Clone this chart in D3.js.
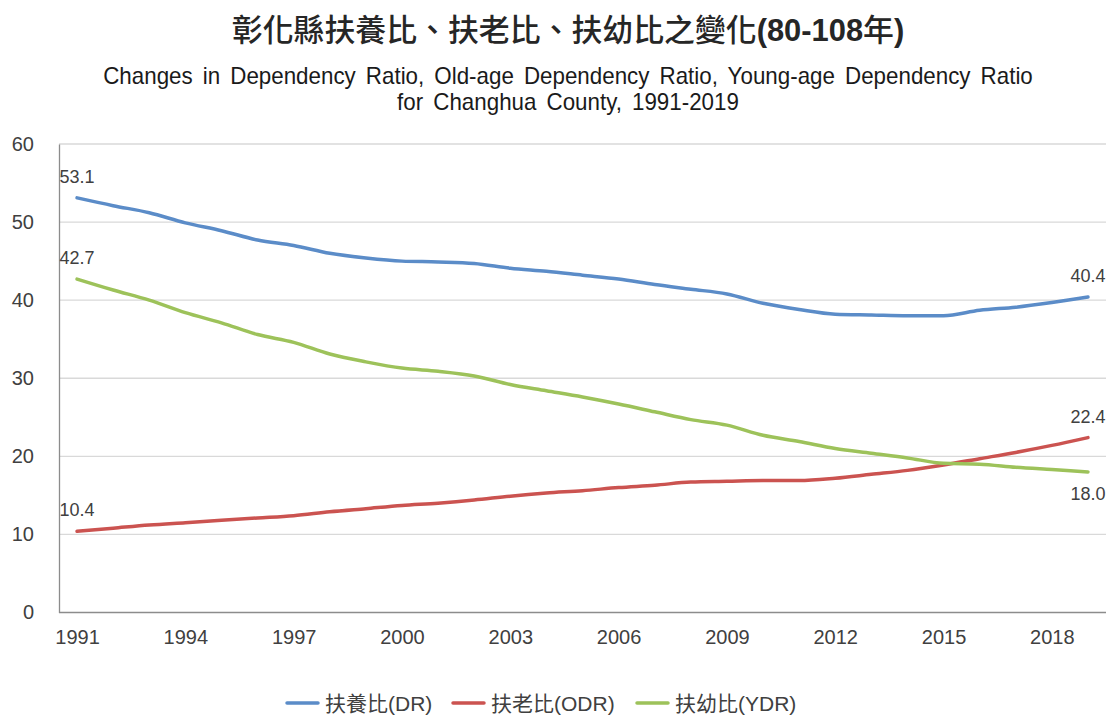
<!DOCTYPE html>
<html><head><meta charset="utf-8">
<script src="https://cdn.jsdelivr.net/npm/d3@7/dist/d3.min.js"></script>
<style>
html,body{margin:0;padding:0;background:#fff;}
svg{display:block;}
</style></head>
<body>
<svg id="chart" width="1113" height="717"></svg>
<script>
const years = [1991,1992,1993,1994,1995,1996,1997,1998,1999,2000,2001,2002,2003,2004,2005,2006,2007,2008,2009,2010,2011,2012,2013,2014,2015,2016,2017,2018,2019];
const dr  = [53.1,52.1,51.2,49.9,48.9,47.7,47.0,46.0,45.4,45.0,44.9,44.7,44.1,43.7,43.2,42.7,42.0,41.4,40.8,39.6,38.8,38.2,38.1,38.0,38.0,38.7,39.1,39.7,40.4];
const odr = [10.4,10.8,11.2,11.5,11.8,12.1,12.4,12.9,13.3,13.7,14.0,14.4,14.9,15.3,15.6,16.0,16.3,16.7,16.8,16.9,16.9,17.2,17.7,18.2,18.9,19.7,20.5,21.4,22.4];
const ydr = [42.7,41.3,40.0,38.4,37.1,35.6,34.6,33.1,32.1,31.3,30.9,30.3,29.2,28.4,27.6,26.7,25.7,24.7,24.0,22.7,21.9,21.0,20.4,19.8,19.1,19.0,18.6,18.3,18.0];
const seriesNames = ["扶養比(DR)","扶老比(ODR)","扶幼比(YDR)"];
const yTicks = [0,10,20,30,40,50,60];
const xTickLabels = [1991,1994,1997,2000,2003,2006,2009,2012,2015,2018];
const titleParts = [["彰化縣扶養比、扶老比、扶幼比之變化", "500"], ["(80-108", "bold"], ["年", "500"], [")", "bold"]];
const subtitle1 = "Changes in Dependency Ratio, Old-age Dependency Ratio, Young-age Dependency Ratio";
const subtitle2 = "for Changhua County, 1991-2019";

const colors = ["#5b8cc8","#cb5350","#9dc25a"];
const series = [dr, odr, ydr];
const latin = "'Liberation Sans', Arial, sans-serif";
const cjk = "'Liberation Sans', 'Noto Sans CJK TC', sans-serif";

const svg = d3.select("#chart");
const L = 59, R = 1106, T = 144, B = 612.5;
const CX = 568;
const x = d3.scalePoint().domain(years).range([L, R]).padding(0.5);
const y = d3.scaleLinear().domain([0, 60]).range([B, T]);

// gridlines
svg.append("g").selectAll("line").data(yTicks.filter(d => d > 0)).join("line")
  .attr("x1", L).attr("x2", R).attr("y1", d => y(d)).attr("y2", d => y(d))
  .attr("stroke", "#d9d9d9").attr("stroke-width", 1.3);

// y axis
const yAxis = svg.append("g").attr("transform", `translate(${L},0)`)
  .call(d3.axisLeft(y).tickValues(yTicks).tickSize(0).tickPadding(25));
yAxis.select(".domain").attr("stroke", "#8c8c8c").attr("stroke-width", 1.3);
yAxis.selectAll("text").attr("font-family", latin).attr("font-size", 20).attr("fill", "#404040");

// x axis
const xAxis = svg.append("g").attr("transform", `translate(0,${B})`)
  .call(d3.axisBottom(x).tickValues(xTickLabels).tickSize(0).tickPadding(17).tickSizeOuter(0));
xAxis.select(".domain").attr("stroke", "#8c8c8c").attr("stroke-width", 1.3)
  .attr("d", `M${L},0H${R}`);
xAxis.selectAll("text").attr("font-family", latin).attr("font-size", 20).attr("fill", "#404040");

// lines
const line = d3.line().x((d, i) => x(years[i])).y(d => y(d)).curve(d3.curveMonotoneX);
svg.append("g").selectAll("path").data(series).join("path")
  .attr("d", d => line(d)).attr("fill", "none")
  .attr("stroke", (d, i) => colors[i]).attr("stroke-width", 3.5)
  .attr("stroke-linecap", "round").attr("stroke-linejoin", "round");

// data labels
const labels = [];
series.forEach((s, i) => {
  const last = s.length - 1;
  labels.push({ v: s[0], yr: years[0], below: false });
  labels.push({ v: s[last], yr: years[last], below: i === 2 });
});
svg.append("g").selectAll("text").data(labels).join("text")
  .attr("x", d => x(d.yr)).attr("y", d => y(d.v) + (d.below ? 28 : -15))
  .attr("text-anchor", "middle").attr("font-family", latin).attr("font-size", 18)
  .attr("fill", "#404040").text(d => d.v.toFixed(1));

// title
const title = svg.append("text").attr("x", CX).attr("y", 41).attr("text-anchor", "middle")
  .attr("font-family", cjk).attr("fill", "#262626").attr("font-size", 29);
titleParts.forEach(p => title.append("tspan").attr("font-weight", p[1]).text(p[0]));
const tw = title.node().getComputedTextLength();
title.attr("font-size", 29 * 673 / tw);

// subtitles (condensed like the reference)
const s1 = svg.append("text").attr("text-anchor", "middle")
  .attr("font-family", latin).attr("font-size", 23).attr("fill", "#1a1a1a")
  .attr("word-spacing", 4).text(subtitle1);
const w1 = s1.node().getComputedTextLength();
const sx = 930 / w1;
s1.attr("transform", `translate(${CX},84) scale(${sx},1)`);
svg.append("text").attr("text-anchor", "middle")
  .attr("font-family", latin).attr("font-size", 23).attr("fill", "#1a1a1a")
  .attr("word-spacing", 4).attr("transform", `translate(${CX},110) scale(${sx},1)`).text(subtitle2);

// legend
const legendX = [287, 453, 637];
const lg = svg.append("g").selectAll("g").data(seriesNames).join("g")
  .attr("transform", (d, i) => `translate(${legendX[i]},703)`);
lg.append("line").attr("x1", 0).attr("x2", 31).attr("y1", 0).attr("y2", 0)
  .attr("stroke", (d, i) => colors[i]).attr("stroke-width", 3.5).attr("stroke-linecap", "round");
lg.append("text").attr("x", 38).attr("y", 7.5).attr("font-family", cjk).attr("font-size", 21)
  .attr("fill", "#404040").text(d => d);
</script>
</body></html>
